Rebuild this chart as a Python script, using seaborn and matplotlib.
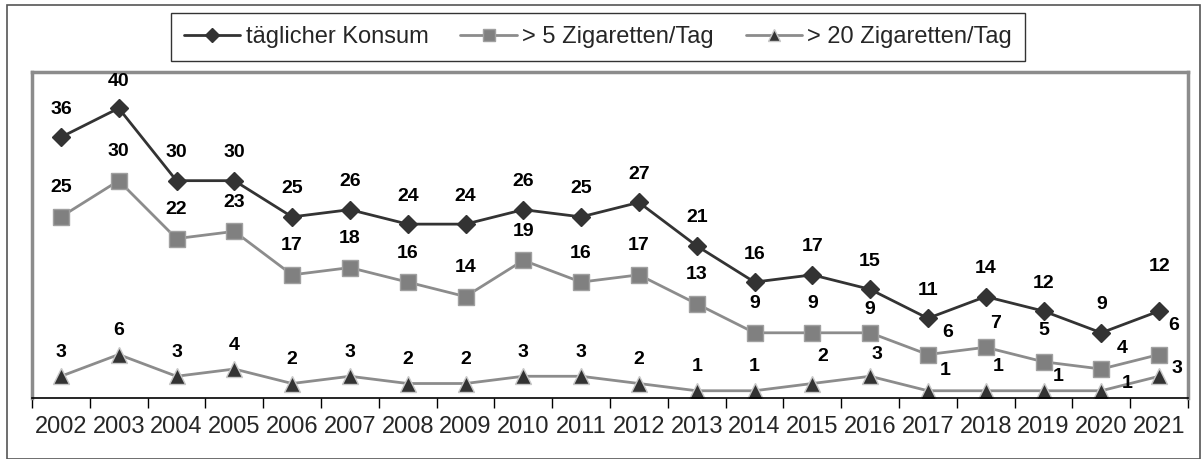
import numpy as np
import pandas as pd
import seaborn as sns
import matplotlib.pyplot as plt
from matplotlib.patches import Rectangle

# data
years = list(range(2002, 2022))
taeglich = [36, 40, 30, 30, 25, 26, 24, 24, 26, 25, 27, 21, 16, 17, 15, 11, 14, 12, 9, 12]
ueber_5 = [25, 30, 22, 23, 17, 18, 16, 14, 19, 16, 17, 13, 9, 9, 9, 6, 7, 5, 4, 6]
ueber_20 = [3, 6, 3, 4, 2, 3, 2, 2, 3, 3, 2, 1, 1, 2, 3, 1, 1, 1, 1, 3]

series_names = ["täglicher Konsum", "> 5 Zigaretten/Tag", "> 20 Zigaretten/Tag"]

sns.set_theme(style="white")
plt.rcParams["font.family"] = ["Liberation Sans", "DejaVu Sans"]

df = pd.DataFrame({"Jahr": years * 3,
                   "Wert": taeglich + ueber_5 + ueber_20,
                   "Serie": np.repeat(series_names, len(years))})

fig = plt.figure(figsize=(12.03, 4.59), dpi=100)
ax = fig.add_axes([32 / 1203, 1 - 398 / 459, (1188 - 32) / 1203, (398 - 72) / 459])

styles = {
    "täglicher Konsum": dict(color="#333333", marker="D", ms=9, mfc="#333333", mec="#333333", lw=2),
    "> 5 Zigaretten/Tag": dict(color="#8c8c8c", marker="s", ms=11, mfc="#808080", mec="#a0a0a0", lw=2),
    "> 20 Zigaretten/Tag": dict(color="#8c8c8c", marker="^", ms=11, mfc="#333333", mec="#c8c8c8", lw=2),
}

for name in series_names:
    st = styles[name]
    sns.lineplot(data=df[df["Serie"] == name], x="Jahr", y="Wert", ax=ax,
                 color=st["color"], marker=st["marker"], markersize=st["ms"],
                 markerfacecolor=st["mfc"], markeredgecolor=st["mec"],
                 markeredgewidth=1, linewidth=st["lw"], label=name)

# label offsets in pixels (dx, dy); default straight above
offsets_default = {"täglicher Konsum": (0, 28), "> 5 Zigaretten/Tag": (0, 29), "> 20 Zigaretten/Tag": (0, 24)}
offsets_special = {
    ("täglicher Konsum", 2003): (0, 27),
    ("> 5 Zigaretten/Tag", 2016): (0, 23),
    ("> 5 Zigaretten/Tag", 2017): (20, 22),
    ("> 5 Zigaretten/Tag", 2018): (10, 24),
    ("> 5 Zigaretten/Tag", 2019): (0, 31),
    ("> 5 Zigaretten/Tag", 2020): (21, 21),
    ("> 5 Zigaretten/Tag", 2021): (15, 29),
    ("> 20 Zigaretten/Tag", 2015): (10, 27),
    ("> 20 Zigaretten/Tag", 2016): (7, 22),
    ("> 20 Zigaretten/Tag", 2017): (17, 20),
    ("> 20 Zigaretten/Tag", 2018): (12, 24),
    ("> 20 Zigaretten/Tag", 2019): (15, 14),
    ("> 20 Zigaretten/Tag", 2020): (26, 7),
    ("> 20 Zigaretten/Tag", 2021): (18, 8),
    ("täglicher Konsum", 2021): (0, 45),
}

for name, vals in zip(series_names, [taeglich, ueber_5, ueber_20]):
    for yr, v in zip(years, vals):
        dx, dy = offsets_special.get((name, yr), offsets_default[name])
        ax.annotate(str(v), (yr, v), xytext=(dx, dy), textcoords="offset pixels",
                    ha="center", va="center", fontsize=14, fontweight="bold", color="black")

ax.set_xlim(2001.5, 2021.5)
ax.set_ylim(0, 45)
ax.set_xticks(years)
ax.set_xticklabels([str(y) for y in years], fontsize=17)
ax.set_xticks(np.arange(2001.5, 2022.0, 1.0), minor=True)
ax.tick_params(axis="x", which="major", length=0, pad=13)
ax.tick_params(axis="x", which="minor", length=7, width=1, color="black", direction="out", bottom=True)
ax.set_yticks([])
ax.set_xlabel("")
ax.set_ylabel("")

for side in ["left", "top", "right"]:
    ax.spines[side].set_color("#8c8c8c")
    ax.spines[side].set_linewidth(2.5)
ax.spines["bottom"].set_color("black")
ax.spines["bottom"].set_linewidth(1.2)

handles, labels = ax.get_legend_handles_labels()
ax.get_legend().remove()
leg = fig.legend(handles, labels, loc="center", bbox_to_anchor=(598 / 1203, 1 - 37 / 459),
                 ncol=3, fontsize=17, frameon=True, fancybox=False, edgecolor="black",
                 handlelength=2.4, handletextpad=0.22, columnspacing=1.35, borderpad=0.55,
                 markerscale=0.75)
leg.get_frame().set_linewidth(1)

# outer border around the whole chart
fig.patches.append(Rectangle((7 / 1203, 0.5 / 459), 1193 / 1203, 453.5 / 459, transform=fig.transFigure,
                             fill=False, edgecolor="#555555", linewidth=1.2))

fig.savefig("out.png", dpi=100)
